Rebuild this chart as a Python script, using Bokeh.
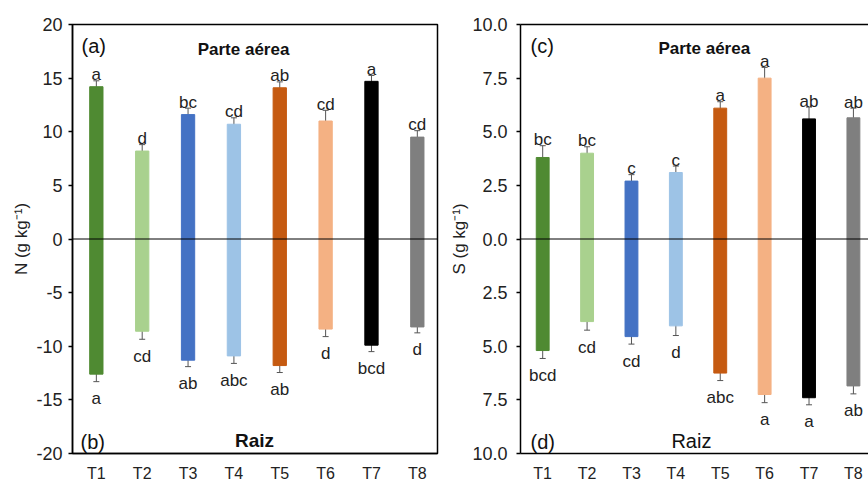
from bokeh.plotting import figure
from bokeh.models import (Range1d, ColumnDataSource, Whisker, TeeHead, FixedTicker,
                          CustomJSTickFormatter, Span, LinearAxis, Label)
from bokeh.layouts import row
from bokeh.embed import file_html
from bokeh.resources import INLINE
from bokeh.core.properties import value

categories = ["T1", "T2", "T3", "T4", "T5", "T6", "T7", "T8"]
colors = ["#4f8a32", "#a9d18e", "#4472c4", "#9dc3e6", "#c55a11", "#f4b183", "#000000", "#7f7f7f"]

n_shoot = [14.2, 8.2, 11.6, 10.7, 14.1, 11.0, 14.7, 9.5]
n_shoot_err = [0.55, 0.6, 0.6, 0.6, 0.55, 1.0, 0.55, 0.6]
n_root = [12.6, 8.6, 11.3, 10.9, 11.8, 8.4, 9.9, 8.2]
n_root_err = [0.7, 0.75, 0.6, 0.7, 0.65, 0.7, 0.6, 0.55]
n_shoot_letters = ["a", "d", "bc", "cd", "ab", "cd", "a", "cd"]
n_root_letters = ["a", "cd", "ab", "abc", "ab", "d", "bcd", "d"]

s_shoot = [3.8, 4.0, 2.7, 3.1, 6.1, 7.5, 5.6, 5.65]
s_shoot_err = [0.55, 0.3, 0.3, 0.3, 0.3, 0.5, 0.55, 0.45]
s_root = [5.2, 3.85, 4.55, 4.05, 6.25, 7.25, 7.4, 6.85]
s_root_err = [0.37, 0.4, 0.35, 0.45, 0.35, 0.38, 0.33, 0.37]
s_shoot_letters = ["bc", "bc", "c", "c", "a", "a", "ab", "ab"]
s_root_letters = ["bcd", "cd", "cd", "d", "abc", "a", "a", "ab"]

n_ticks = [-20, -15, -10, -5, 0, 5, 10, 15, 20]
s_ticks = [-10, -7.5, -5, -2.5, 0, 2.5, 5, 7.5, 10]

FONT = "Liberation Sans"


def make_panel(shoot, shoot_err, root, root_err, top_letters, bot_letters,
               ylabel, ymax, yticks, x_range, frame_width, border_left, border_right,
               abs_labels, outline):
    xs = list(range(1, len(categories) + 1))
    p = figure(frame_width=frame_width, frame_height=429,
               min_border_left=border_left, min_border_right=border_right,
               min_border_top=24, min_border_bottom=29,
               x_range=x_range, y_range=Range1d(-ymax, ymax),
               output_backend="svg", toolbar_location=None,
               background_fill_color="white", border_fill_color="white")
    p.grid.visible = False

    src = ColumnDataSource(dict(
        x=xs, shoot=shoot, root=[-r for r in root], color=colors,
        up_hi=[v + e for v, e in zip(shoot, shoot_err)],
        up_lo=[v - e for v, e in zip(shoot, shoot_err)],
        dn_hi=[-r + e for r, e in zip(root, root_err)],
        dn_lo=[-r - e for r, e in zip(root, root_err)],
        top_letters=top_letters, bot_letters=bot_letters,
    ))
    p.vbar(x="x", width=0.29, top="shoot", bottom=0, color="color", source=src)
    p.vbar(x="x", width=0.29, top=0, bottom="root", color="color", source=src)

    for hi, lo in (("up_hi", "up_lo"), ("dn_hi", "dn_lo")):
        w = Whisker(source=src, base="x", upper=hi, lower=lo,
                    line_color="#555555", line_width=1,
                    upper_head=TeeHead(size=6, line_color="#555555", line_width=1),
                    lower_head=TeeHead(size=6, line_color="#555555", line_width=1))
        p.add_layout(w)

    p.add_layout(Span(location=0, dimension="width", line_color="black", line_width=1))

    p.text(x="x", y="up_hi", text="top_letters", source=src, text_align="center",
           text_baseline="alphabetic", y_offset=-6, text_font=value(FONT),
           text_font_size="17px", text_color="#222222")
    p.text(x="x", y="dn_lo", text="bot_letters", source=src, text_align="center",
           text_baseline="alphabetic", y_offset=17, text_font=value(FONT),
           text_font_size="17px", text_color="#222222")

    xa = p.below[0]
    xa.ticker = FixedTicker(ticks=xs)
    xa.major_label_overrides = {x: c for x, c in zip(xs, categories)}
    xa.major_tick_line_color = None
    xa.minor_tick_line_color = None
    xa.axis_line_color = "black"
    xa.axis_line_width = 1.5
    xa.major_label_standoff = 5
    xa.major_label_text_font = FONT
    xa.major_label_text_font_size = "16px"
    xa.major_label_text_color = "#222222"

    ya = p.left[0]
    ya.ticker = FixedTicker(ticks=yticks)
    if abs_labels:
        ya.formatter = CustomJSTickFormatter(code="return Math.abs(tick).toFixed(1);")
    else:
        ya.formatter = CustomJSTickFormatter(code="return String(tick);")
    ya.major_tick_out = 4
    ya.major_tick_in = 0
    ya.major_tick_line_color = "black"
    ya.major_tick_line_width = 1.5
    ya.minor_tick_line_color = None
    ya.axis_line_color = "black"
    ya.axis_line_width = 1.5
    ya.major_label_standoff = 9 if abs_labels else 6
    ya.major_label_text_font = FONT
    ya.major_label_text_font_size = "18px"
    ya.major_label_text_color = "#222222"
    ya.axis_label = ylabel
    ya.axis_label_text_font = FONT
    ya.axis_label_text_font_size = "17px"
    ya.axis_label_text_font_style = "normal"
    ya.axis_label_text_color = "#222222"
    ya.axis_label_standoff = 0 if abs_labels else 2

    if outline:
        p.outline_line_color = "black"
        p.outline_line_width = 1.5
    else:
        p.outline_line_color = None
        top = LinearAxis(ticker=FixedTicker(ticks=[]), axis_line_color="black",
                         axis_line_width=1.5, major_tick_line_color=None,
                         minor_tick_line_color=None, major_label_text_font_size="0px",
                         major_label_standoff=0)
        p.add_layout(top, "above")
    return p


p1 = make_panel(n_shoot, n_shoot_err, n_root, n_root_err, n_shoot_letters, n_root_letters,
                "N (g kg⁻¹)", 20, n_ticks, Range1d(0.48, 8.44), 365, 72, 3, False, True)
p2 = make_panel(s_shoot, s_shoot_err, s_root, s_root_err, s_shoot_letters, s_root_letters,
                "S (g kg⁻¹)", 10, s_ticks, Range1d(0.5, 8.34), 348, 80, 0, True, False)


def lab(p, text, x, y, size, style="normal", align="left"):
    p.add_layout(Label(x=x, y=y, text=text, text_font=FONT, text_font_size=size,
                       text_font_style=style, text_align=align,
                       text_baseline="alphabetic", text_color="#111111"))


lab(p1, "(a)", 0.676, 18.0, "20px")
lab(p1, "Parte aérea", 4.21, 17.7, "17px", "bold", "center")
lab(p1, "(b)", 0.655, -18.93, "20px")
lab(p1, "Raiz", 4.45, -18.83, "19px", "bold", "center")

lab(p2, "(c)", 0.725, 9.0, "20px")
lab(p2, "Parte aérea", 4.64, 8.86, "17px", "bold", "center")
lab(p2, "(d)", 0.725, -9.46, "20px")
lab(p2, "Raiz", 4.35, -9.42, "20px", "normal", "center")

layout = row(p1, p2)
open("out.html", "w").write(file_html(layout, INLINE))
